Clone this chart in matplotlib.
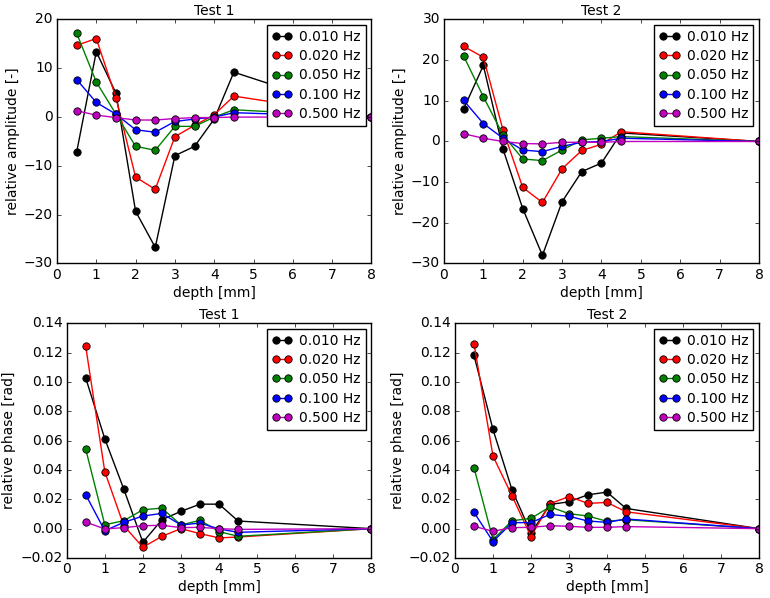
import numpy as np
import matplotlib
matplotlib.use('Agg')
import matplotlib.pyplot as plt

plt.style.use('classic')

# depths [mm]
depth = [0.5, 1.0, 1.5, 2.0, 2.5, 3.0, 3.5, 4.0, 4.5, 8.0]
freqs = ['0.010 Hz', '0.020 Hz', '0.050 Hz', '0.100 Hz', '0.500 Hz']
colors = ['k', 'r', 'g', 'b', 'm']

# relative amplitude, test 1
amp1_010 = [-7.2, 13.4, 4.9, -19.3, -26.7, -7.9, -6.0, -0.4, 9.2, 0.0]
amp1_020 = [14.7, 16.1, 4.0, -12.3, -14.8, -4.0, -1.7, 0.5, 4.3, 0.0]
amp1_050 = [17.2, 7.2, 0.6, -6.0, -6.8, -1.9, -1.9, 0.0, 1.5, 0.0]
amp1_100 = [7.7, 3.0, 0.6, -2.6, -3.1, -0.9, -0.4, 0.0, 0.9, 0.0]
amp1_500 = [1.3, 0.4, -0.1, -0.6, -0.6, -0.3, -0.1, -0.1, 0.0, 0.0]

# relative amplitude, test 2
amp2_010 = [8.0, 18.7, -1.9, -16.5, -28.0, -14.8, -7.4, -5.3, 2.1, 0.0]
amp2_020 = [23.4, 20.7, 2.8, -11.3, -15.0, -6.7, -2.2, -0.7, 2.4, 0.0]
amp2_050 = [21.0, 11.0, 1.6, -4.3, -4.7, -2.1, 0.4, 0.8, 1.2, 0.0]
amp2_100 = [10.1, 4.4, 0.8, -2.1, -2.5, -1.2, -0.2, 0.0, 0.8, 0.0]
amp2_500 = [1.9, 0.8, 0.0, -0.5, -0.6, -0.2, -0.2, -0.2, 0.0, 0.0]

# relative phase, test 1
ph1_010 = [0.1027, 0.0613, 0.0269, -0.0093, 0.0061, 0.0118, 0.0167, 0.0167, 0.0052, 0.0]
ph1_020 = [0.1242, 0.0389, 0.0020, -0.0127, -0.0052, 0.0000, -0.0034, -0.0063, -0.0057, 0.0]
ph1_050 = [0.0541, 0.0027, 0.0054, 0.0129, 0.0140, 0.0025, 0.0057, -0.0020, -0.0052, 0.0]
ph1_100 = [0.0231, -0.0014, 0.0043, 0.0086, 0.0104, 0.0025, 0.0038, -0.0002, -0.0025, 0.0]
ph1_500 = [0.0045, -0.0002, 0.0007, 0.0020, 0.0023, 0.0007, 0.0009, 0.0000, -0.0005, 0.0]

# relative phase, test 2
ph2_010 = [0.1181, 0.0676, 0.0265, -0.0030, 0.0165, 0.0183, 0.0231, 0.0249, 0.0138, 0.0]
ph2_020 = [0.1262, 0.0495, 0.0224, -0.0054, 0.0170, 0.0219, 0.0172, 0.0179, 0.0115, 0.0]
ph2_050 = [0.0416, -0.0075, 0.0054, 0.0070, 0.0149, 0.0102, 0.0086, 0.0050, 0.0061, 0.0]
ph2_100 = [0.0111, -0.0088, 0.0041, 0.0041, 0.0097, 0.0084, 0.0052, 0.0043, 0.0066, 0.0]
ph2_500 = [0.0016, -0.0018, 0.0007, 0.0009, 0.0020, 0.0016, 0.0009, 0.0009, 0.0014, 0.0]

panels = [
    ('Test 1', 'relative amplitude [-]', (-30, 20), [amp1_010, amp1_020, amp1_050, amp1_100, amp1_500]),
    ('Test 2', 'relative amplitude [-]', (-30, 30), [amp2_010, amp2_020, amp2_050, amp2_100, amp2_500]),
    ('Test 1', 'relative phase [rad]', (-0.02, 0.14), [ph1_010, ph1_020, ph1_050, ph1_100, ph1_500]),
    ('Test 2', 'relative phase [rad]', (-0.02, 0.14), [ph2_010, ph2_020, ph2_050, ph2_100, ph2_500]),
]

# axes boxes (tight-layout like, as in the original)
boxes = [
    [0.0740, 0.5594, 0.4084, 0.4080],
    [0.5766, 0.5594, 0.4091, 0.4080],
    [0.0866, 0.0669, 0.3958, 0.3925],
    [0.5909, 0.0669, 0.3948, 0.3925],
]

fig = plt.figure(figsize=(7.7, 5.98), dpi=100, facecolor='white')

for box, (title, ylab, ylim, series) in zip(boxes, panels):
    ax = fig.add_axes(box)
    for vals, c, lab in zip(series, colors, freqs):
        ax.plot(depth, vals, '-o', color=c, mfc=c, mec='k', mew=0.6,
                ms=5.3, lw=1.0, label=lab)
    ax.set_xlim(0, 8)
    ax.set_ylim(*ylim)
    ax.set_title(title, fontsize=10, pad=3)
    ax.set_xlabel('depth [mm]', fontsize=10, labelpad=3)
    ax.set_ylabel(ylab, fontsize=10, labelpad=3)
    ax.tick_params(labelsize=10, pad=2.9, length=3)
    ax.legend(loc='upper right', fontsize=10, numpoints=2,
              handlelength=1.5, handletextpad=0.5, labelspacing=0.38,
              borderpad=0.35, borderaxespad=0.4)

fig.savefig('out.png', dpi=100, facecolor='white')
